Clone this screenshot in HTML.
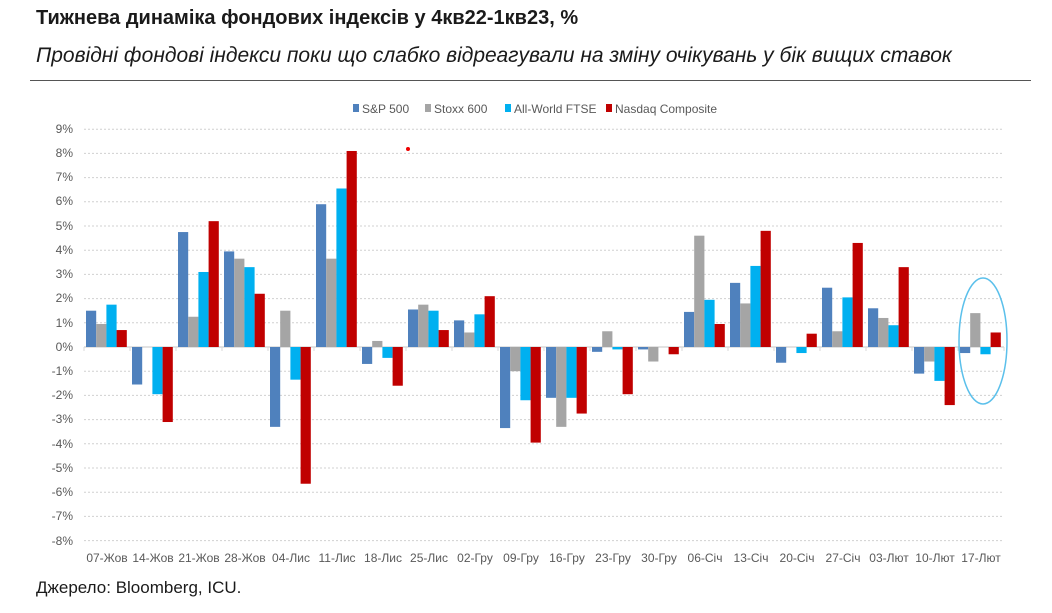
<!DOCTYPE html>
<html><head><meta charset="utf-8">
<style>
body{margin:0;background:#fff;width:1052px;height:613px;overflow:hidden;font-family:"Liberation Sans",sans-serif;}
.t{position:absolute;left:36px;top:7px;font-size:20px;font-weight:bold;color:#1a1a1a;}
.s{position:absolute;left:36px;top:44px;font-size:21px;font-style:italic;color:#1a1a1a;}
.hr{position:absolute;left:30px;top:80px;width:1001px;height:1px;background:#555;}
.f{position:absolute;left:36px;top:578px;font-size:17px;color:#1a1a1a;}
svg{position:absolute;left:0;top:0}
</style></head><body>
<div class="t">Тижнева динаміка фондових індексів у 4кв22-1кв23, %</div>
<div class="s">Провідні фондові індекси поки що слабко відреагували на зміну очікувань у бік вищих ставок</div>
<div class="hr"></div>
<div class="f">Джерело: Bloomberg, ICU.</div>
<svg id="c" width="1052" height="613" font-family="Liberation Sans, sans-serif">
<g font-size="12" fill="#595959">
<rect x="353" y="104" width="6" height="8" fill="#4F81BD"/><text x="362" y="113">S&amp;P 500</text>
<rect x="425" y="104" width="6" height="8" fill="#A5A5A5"/><text x="434" y="113">Stoxx 600</text>
<rect x="505" y="104" width="6" height="8" fill="#00B0F0"/><text x="514" y="113">All-World FTSE</text>
<rect x="606" y="104" width="6" height="8" fill="#C00000"/><text x="615" y="113">Nasdaq Composite</text>
</g>
<g font-size="12" fill="#595959" text-anchor="end">
<text x="73" y="133">9%</text><text x="73" y="157">8%</text><text x="73" y="181">7%</text><text x="73" y="205">6%</text><text x="73" y="230">5%</text><text x="73" y="254">4%</text><text x="73" y="278">3%</text><text x="73" y="302">2%</text><text x="73" y="327">1%</text><text x="73" y="351">0%</text><text x="73" y="375">-1%</text><text x="73" y="399">-2%</text><text x="73" y="423">-3%</text><text x="73" y="448">-4%</text><text x="73" y="472">-5%</text><text x="73" y="496">-6%</text><text x="73" y="520">-7%</text><text x="73" y="545">-8%</text>
</g>
<g font-size="12" fill="#595959" text-anchor="middle">
<text x="107" y="562">07-Жов</text><text x="153" y="562">14-Жов</text><text x="199" y="562">21-Жов</text><text x="245" y="562">28-Жов</text><text x="291" y="562">04-Лис</text><text x="337" y="562">11-Лис</text><text x="383" y="562">18-Лис</text><text x="429" y="562">25-Лис</text><text x="475" y="562">02-Гру</text><text x="521" y="562">09-Гру</text><text x="567" y="562">16-Гру</text><text x="613" y="562">23-Гру</text><text x="659" y="562">30-Гру</text><text x="705" y="562">06-Січ</text><text x="751" y="562">13-Січ</text><text x="797" y="562">20-Січ</text><text x="843" y="562">27-Січ</text><text x="889" y="562">03-Лют</text><text x="935" y="562">10-Лют</text><text x="981" y="562">17-Лют</text>
</g>
<g id="grid"></g><g id="bars"></g>
<circle cx="408" cy="149" r="2" fill="#e00"/>
<ellipse cx="983" cy="341" rx="24" ry="63" fill="none" stroke="#5BC0EB" stroke-width="1.5"/>
</svg>
<script>
var d=[[1.5,0.95,1.75,0.7],[-1.55,0,-1.95,-3.1],[4.75,1.25,3.1,5.2],[3.95,3.65,3.3,2.2],[-3.3,1.5,-1.35,-5.65],[5.9,3.65,6.55,8.1],[-0.7,0.25,-0.45,-1.6],[1.55,1.75,1.5,0.7],[1.1,0.6,1.35,2.1],[-3.35,-1.0,-2.2,-3.95],[-2.1,-3.3,-2.1,-2.75],[-0.2,0.65,-0.1,-1.95],[-0.1,-0.6,0,-0.3],[1.45,4.6,1.95,0.95],[2.65,1.8,3.35,4.8],[-0.65,0,-0.25,0.55],[2.45,0.65,2.05,4.3],[1.6,1.2,0.9,3.3],[-1.1,-0.6,-1.4,-2.4],[-0.25,1.4,-0.3,0.6]];
var col=["#4F81BD","#A5A5A5","#00B0F0","#C00000"];
var z=347,u=24.2,x0=84,gw=46,s="",g="";
for(var k=-8;k<=9;k++){if(k==0)continue;var y=z-k*u;g+='<line x1="84" x2="1004" y1="'+y+'" y2="'+y+'" stroke="#d0d0d0" stroke-dasharray="2,2"/>';}
g+='<line x1="84" x2="1004" y1="'+z+'" y2="'+z+'" stroke="#d9d9d9" stroke-width="1.5"/>';
for(var i=0;i<=20;i++){var x=x0+i*gw;g+='<line x1="'+x+'" x2="'+x+'" y1="'+z+'" y2="'+(z+4)+'" stroke="#d9d9d9"/>';}
for(var i=0;i<20;i++)for(var j=0;j<4;j++){var v=d[i][j];if(!v)continue;var h=Math.abs(v)*u;var y=v>0?z-h:z;s+='<rect x="'+(x0+i*gw+2+j*10.2)+'" y="'+y+'" width="10.2" height="'+h+'" fill="'+col[j]+'"/>';}
document.getElementById('grid').innerHTML=g;document.getElementById('bars').innerHTML=s;
</script>
</body></html>
